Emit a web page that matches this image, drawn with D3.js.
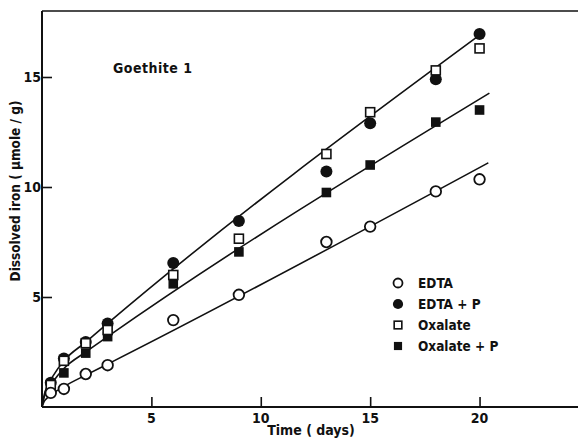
<!DOCTYPE html>
<html>
<head>
<meta charset="utf-8">
<script src="https://cdn.jsdelivr.net/npm/d3@7"></script>
<style>
  body { margin: 0; background: #fff; }
  text { font-family: "DejaVu Sans Condensed", "DejaVu Sans", sans-serif; font-weight: bold; fill: #111; }
</style>
</head>
<body>
<svg id="chart" width="578" height="439"></svg>
<script>
// measured points, days vs dissolved iron
const days = [0.4, 1, 2, 3, 6, 9, 13, 15, 18, 20];
const edta = [0.64, 0.82, 1.5, 1.9, 3.95, 5.1, 7.5, 8.2, 9.8, 10.35];
const edtaP = [1.1, 2.2, 2.95, 3.8, 6.55, 8.45, 10.7, 12.9, 14.9, 16.95];
const oxalate = [1.0, 2.1, 2.9, 3.5, 6.0, 7.65, 11.5, 13.4, 15.3, 16.3];
const oxalateP = [0.9, 1.55, 2.45, 3.2, 5.6, 7.05, 9.75, 11.0, 12.95, 13.5];

// fitted curves
const fitTop = [[0, 0], [0.1, 0.55], [0.25, 0.95], [0.5, 1.4], [1, 2.1], [2, 2.95], [3, 3.8], [20, 16.9]];
const fitMid = [[0, 0], [0.1, 0.45], [0.25, 0.78], [0.5, 1.15], [1, 1.75], [2, 2.5], [3, 3.2], [20.45, 14.27]];
const fitLow = [[0, 0], [0.1, 0.25], [0.25, 0.42], [0.5, 0.62], [1, 0.93], [2, 1.45], [3, 1.95], [20.4, 11.1]];

const xTicks = [5, 10, 15, 20];
const yTicks = [5, 10, 15];
const legendNames = ['EDTA', 'EDTA + P', 'Oxalate', 'Oxalate + P'];

const svg = d3.select('#chart');
const x = d3.scaleLinear().domain([0, 24.5]).range([42, 578]);
const y = d3.scaleLinear().domain([0, 18]).range([407, 11]);

// frame: left axis, bottom axis, top line
svg.append('line').attr('x1', 42).attr('x2', 578).attr('y1', y(0)).attr('y2', y(0))
    .attr('stroke', '#111').attr('stroke-width', 2);
svg.append('line').attr('x1', 42).attr('x2', 42).attr('y1', y(0)).attr('y2', y(18))
    .attr('stroke', '#111').attr('stroke-width', 2);
svg.append('line').attr('x1', 42).attr('x2', 578).attr('y1', y(18)).attr('y2', y(18))
    .attr('stroke', '#111').attr('stroke-width', 1.6);

const xAxis = d3.axisTop(x).tickValues(xTicks).tickSize(10).tickFormat('');
svg.append('g').attr('transform', `translate(0,${y(0)})`).call(xAxis)
    .call((g) => g.select('.domain').remove())
    .selectAll('line').attr('stroke', '#111').attr('stroke-width', 1.6);
svg.append('g').selectAll('text').data(xTicks).join('text')
    .attr('x', (d) => x(d)).attr('y', 423)
    .attr('text-anchor', 'middle').attr('font-size', 14)
    .text((d) => d);

const yAxis = d3.axisRight(y).tickValues(yTicks).tickSize(10).tickFormat('');
svg.append('g').attr('transform', 'translate(42,0)').call(yAxis)
    .call((g) => g.select('.domain').remove())
    .selectAll('line').attr('stroke', '#111').attr('stroke-width', 1.6);
svg.append('g').selectAll('text').data(yTicks).join('text')
    .attr('x', 41).attr('y', (d) => y(d) + 5)
    .attr('text-anchor', 'end').attr('font-size', 14)
    .text((d) => d);

svg.append('text').attr('x', 311).attr('y', 435).attr('text-anchor', 'middle')
    .attr('font-size', 14).text('Time ( days)');
svg.append('text').attr('transform', 'translate(20,191) rotate(-90)').attr('text-anchor', 'middle')
    .attr('font-size', 13.5).text('Dissolved iron ( µmole / g)');
svg.append('text').attr('x', 113).attr('y', 73).attr('font-size', 14)
    .attr('letter-spacing', 0.5).text('Goethite 1');

// fitted lines
const line = d3.line().x((d) => x(d[0])).y((d) => y(d[1])).curve(d3.curveMonotoneX);
[fitTop, fitMid, fitLow].forEach((f) => {
    svg.append('path').attr('d', line(f)).attr('fill', 'none')
        .attr('stroke', '#111').attr('stroke-width', 1.6);
});

const drawMarker = (sel, kind, s) => {
    if (kind === 0) {
        sel.append('circle').attr('r', 5.3 * s).attr('fill', '#fff').attr('stroke', '#111').attr('stroke-width', 1.8);
    } else if (kind === 1) {
        sel.append('circle').attr('r', 6 * s).attr('fill', '#111');
    } else if (kind === 2) {
        const h = 4.5 * s;
        sel.append('rect').attr('x', -h).attr('y', -h).attr('width', 2 * h).attr('height', 2 * h)
            .attr('fill', '#fff').attr('stroke', '#111').attr('stroke-width', 1.6);
    } else {
        const h = 4.8 * s;
        sel.append('rect').attr('x', -h).attr('y', -h).attr('width', 2 * h).attr('height', 2 * h).attr('fill', '#111');
    }
};

const seriesList = [edta, edtaP, oxalate, oxalateP];
// draw open squares before filled ones, as in the original
[3, 1, 2, 0].forEach((k) => {
    svg.append('g').selectAll('g').data(days).join('g')
        .attr('transform', (d, i) => `translate(${x(d)},${y(seriesList[k][i])})`)
        .each(function () { drawMarker(d3.select(this), k, 1); });
});

// legend
const legend = svg.append('g');
legendNames.forEach((name, i) => {
    const ly = 283 + i * 21;
    const g = legend.append('g').attr('transform', `translate(398,${ly})`);
    drawMarker(g, i, 0.85);
    legend.append('text').attr('x', 418).attr('y', ly + 5).attr('font-size', 13.5).text(name);
});
</script>
</body>
</html>
